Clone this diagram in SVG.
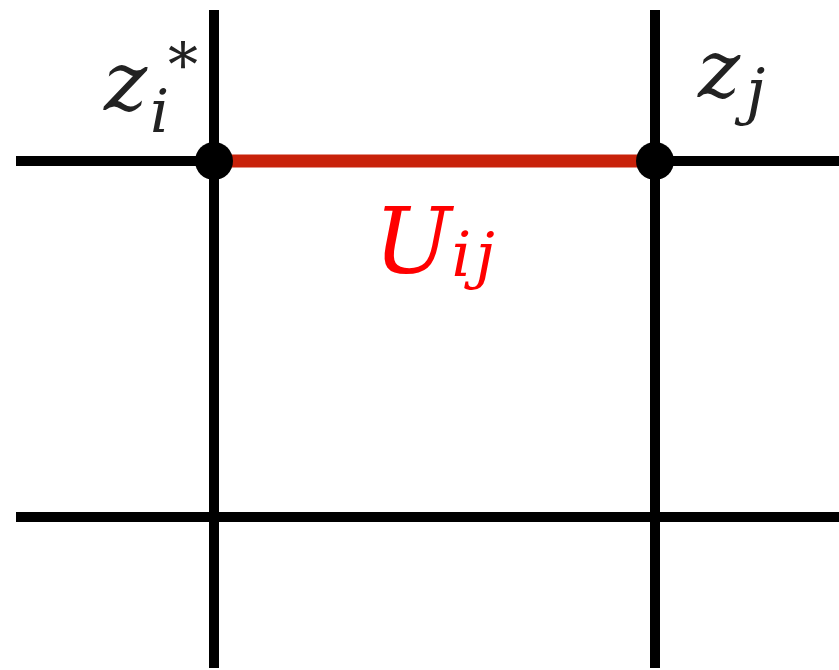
<svg xmlns="http://www.w3.org/2000/svg" width="839" height="670" viewBox="0 0 839 670">
<style>
.ln{stroke:#000;stroke-width:10;fill:none}
.t{font-family:'DejaVu Serif',serif;font-style:italic}
</style>
<rect width="839" height="670" fill="#fff"/>
<g id="connectors">
<line class="ln" x1="214" y1="10" x2="214" y2="668"/>
<line class="ln" x1="655" y1="10" x2="655" y2="668"/>
<line class="ln" x1="16" y1="161" x2="839" y2="161"/>
<line class="ln" x1="16" y1="517" x2="839" y2="517"/>
<line id="Uij-edge" x1="222" y1="161" x2="648" y2="161" stroke="#c8220a" stroke-width="13"/>
</g>
<g id="node-zi"><circle cx="214" cy="161" r="19" fill="#000"/>
<text class="t" x="104" y="110" font-size="82" fill="#222">z</text>
<text class="t" x="150" y="132" font-size="60" fill="#222">i</text>
<text x="168" y="86" font-size="60" font-family="'DejaVu Serif',serif" fill="#222">*</text>
</g>
<g id="node-zj"><circle cx="655" cy="161" r="19" fill="#000"/>
<text class="t" x="698" y="97" font-size="80" fill="#222">z</text>
<text class="t" x="746" y="112" font-size="62" fill="#222">j</text>
</g>
<g id="label-U"><text class="t" x="374" y="273" font-size="92" fill="#ff0000">U<tspan font-size="62" dy="3" letter-spacing="4">ij</tspan></text></g>
</svg>
